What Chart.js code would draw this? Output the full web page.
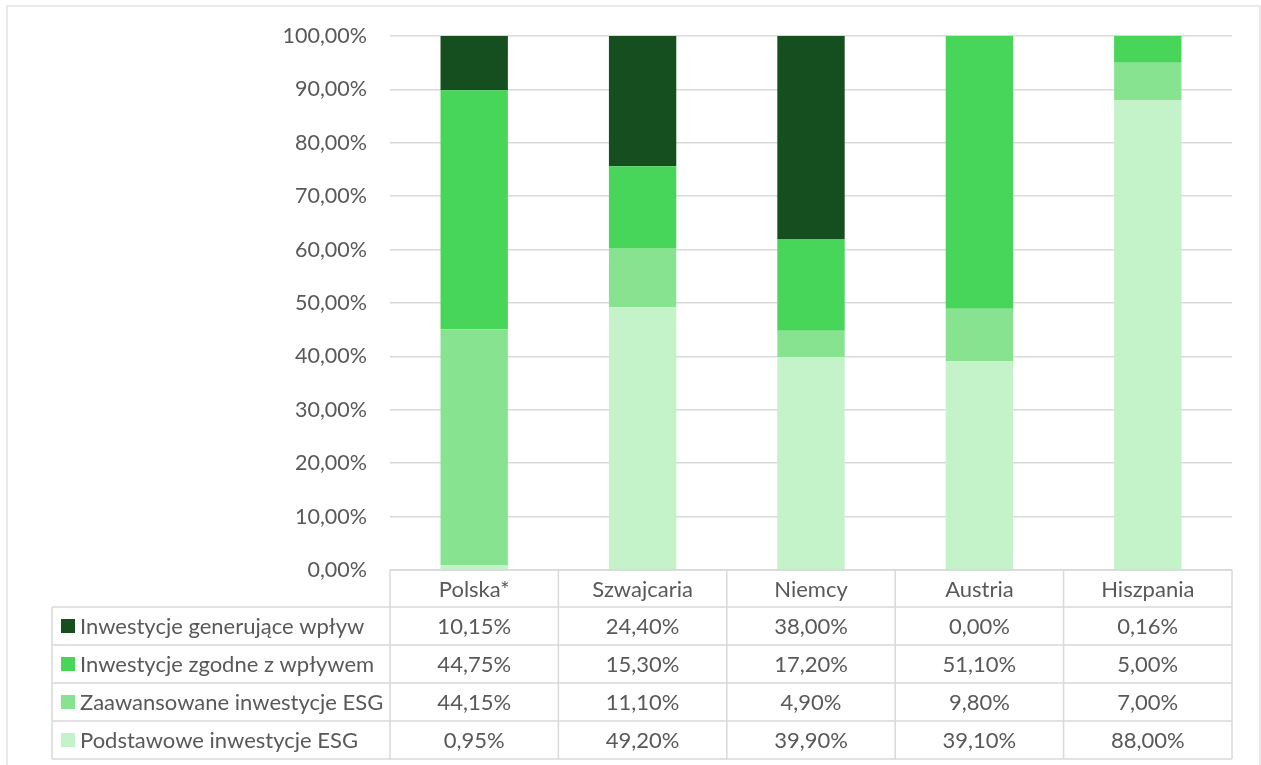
<!DOCTYPE html>
<html>
<head>
<meta charset="utf-8">
<script src="https://cdn.jsdelivr.net/npm/chart.js@4"></script>
<style>
  body { margin: 0; background: #fff; }
  #wrap { width: 1261px; height: 765px; }
</style>
</head>
<body>
<div id="wrap"><canvas id="esgChart" width="1261" height="765"></canvas></div>
<script>
// categories and series (values in %)
const countries = ['Polska*', 'Szwajcaria', 'Niemcy', 'Austria', 'Hiszpania'];
const basicEsg    = [0.95, 49.20, 39.90, 39.10, 88.00];
const advancedEsg = [44.15, 11.10, 4.90, 9.80, 7.00];
const alignedImp  = [44.75, 15.30, 17.20, 51.10, 5.00];
const generateImp = [10.15, 24.40, 38.00, 0.00, 0.16];

const seriesNames = [
    'Podstawowe inwestycje ESG',
    'Zaawansowane inwestycje ESG',
    'Inwestycje zgodne z wpływem',
    'Inwestycje generujące wpływ'
];
const seriesColors = ['#c4f2c9', '#88e391', '#47d55a', '#154f1f'];

const FONT = '"Lato", "Open Sans", sans-serif';
const TEXT = '#595959';
const LINE = '#d9d9d9';

function pct(v) {
    return v.toFixed(2).replace('.', ',') + '%';
}

// draws the data table under the plot + outer frame
const dataTable = {
    id: 'dataTable',
    afterDraw(chart) {
        const ctx = chart.ctx;
        const area = chart.chartArea;
        const xs = chart.scales.x;
        const half = (area.right - area.left) / countries.length / 2;
        const top = area.bottom;
        const headH = 37;
        const rowH = 38;
        const tableLeft = 52;
        const series = chart.data.datasets;

        ctx.save();
        ctx.strokeStyle = LINE;
        ctx.lineWidth = 1.5;

        // header row (categories)
        ctx.beginPath();
        ctx.moveTo(area.left, top);
        ctx.lineTo(area.right, top);
        for (let i = 0; i < countries.length; i++) {
            const cx = xs.getPixelForValue(i);
            ctx.moveTo(cx - half, top);
            ctx.lineTo(cx - half, top + headH + rowH * series.length);
        }
        ctx.moveTo(area.right, top);
        ctx.lineTo(area.right, top + headH + rowH * series.length);
        // row lines
        for (let r = 0; r <= series.length; r++) {
            const y = top + headH + rowH * r;
            ctx.moveTo(tableLeft, y);
            ctx.lineTo(area.right, y);
        }
        ctx.moveTo(tableLeft, top + headH);
        ctx.lineTo(tableLeft, top + headH + rowH * series.length);
        ctx.stroke();

        ctx.font = '22px ' + FONT;
        ctx.fillStyle = TEXT;
        ctx.textBaseline = 'middle';
        ctx.textAlign = 'center';
        countries.forEach((c, i) => {
            ctx.fillText(c, xs.getPixelForValue(i), top + headH / 2 + 1);
        });

        // rows, top one = last dataset
        for (let r = 0; r < series.length; r++) {
            const ds = series[series.length - 1 - r];
            const yMid = top + headH + rowH * r + rowH / 2 + 1;
            ctx.fillStyle = ds.backgroundColor;
            ctx.fillRect(61, yMid - 8, 14, 14);
            ctx.fillStyle = TEXT;
            ctx.textAlign = 'left';
            ctx.fillText(ds.label, 80, yMid);
            ctx.textAlign = 'center';
            ds.data.forEach((v, i) => {
                ctx.fillText(pct(v), xs.getPixelForValue(i), yMid);
            });
        }

        // outer frame
        ctx.strokeStyle = '#e3e3e3';
        ctx.strokeRect(7, 6, 1253, 800);
        ctx.restore();
    }
};

const chart = new Chart(document.getElementById('esgChart'), {
    type: 'bar',
    data: {
        labels: countries,
        datasets: [basicEsg, advancedEsg, alignedImp, generateImp].map((d, i) => ({
            label: seriesNames[i],
            data: d,
            backgroundColor: seriesColors[i],
            barPercentage: 0.4,
            categoryPercentage: 1
        }))
    },
    options: {
        responsive: false,
        animation: false,
        layout: { padding: { top: 36, right: 29, bottom: 195, left: 0 } },
        plugins: {
            legend: { display: false },
            tooltip: { enabled: false }
        },
        scales: {
            x: { stacked: true, display: false },
            y: {
                stacked: true,
                min: 0,
                max: 100,
                afterFit(scale) { scale.width = 390; },
                border: { display: false },
                grid: { color: LINE, lineWidth: 1.5, drawTicks: false },
                ticks: {
                    stepSize: 10,
                    padding: 23,
                    color: TEXT,
                    font: { family: FONT, size: 21.5 },
                    callback: v => pct(v)
                }
            }
        }
    },
    plugins: [dataTable]
});
</script>
</body>
</html>
